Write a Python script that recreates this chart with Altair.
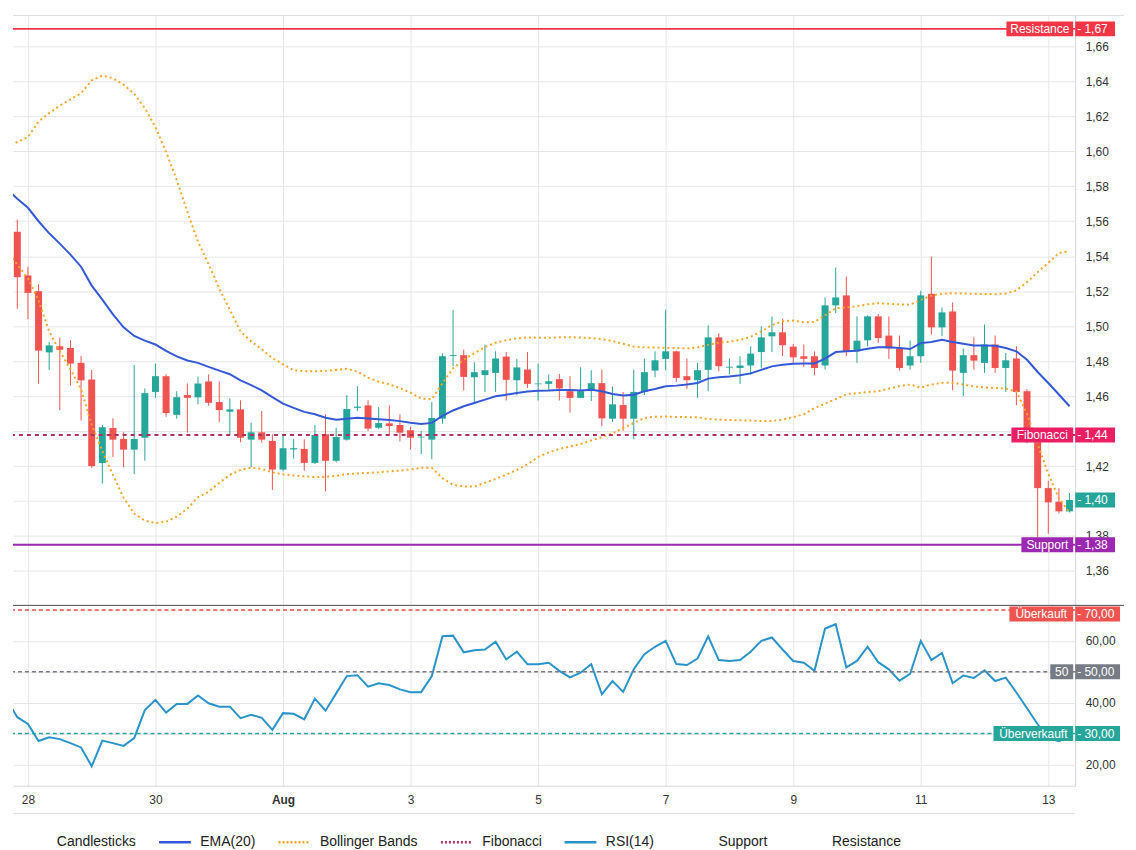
import altair as alt
import pandas as pd
from datetime import datetime, timedelta

# ---------------- data (4h candles) ----------------
OPEN = [1.554, 1.529, 1.520, 1.485, 1.4885, 1.4875, 1.479, 1.4695, 1.4217, 1.4418,
        1.4355, 1.4294, 1.4362, 1.4624, 1.4714, 1.4493, 1.4606, 1.4593, 1.4684, 1.4566,
        1.4511, 1.4524, 1.4351, 1.4393, 1.4344, 1.4180, 1.4295, 1.4298, 1.4218, 1.4382,
        1.4230, 1.4351, 1.4533, 1.4547, 1.4419, 1.4444, 1.4435, 1.4405, 1.4364, 1.4351,
        1.4471, 1.4830, 1.4834, 1.4708, 1.4720, 1.4733, 1.4826, 1.4691, 1.4752, 1.4668,
        1.4670, 1.4697, 1.4628, 1.4590, 1.4632, 1.4674, 1.4471, 1.4549, 1.4471, 1.4624,
        1.4746, 1.4813, 1.4856, 1.4714, 1.4691, 1.4750, 1.4936, 1.4763, 1.4761, 1.4775,
        1.4852, 1.4942, 1.4965, 1.4883, 1.4828, 1.4828, 1.4775, 1.5119, 1.5176, 1.4856,
        1.4919, 1.5056, 1.4946, 1.4872, 1.4775, 1.4828, 1.5185, 1.4993, 1.5084, 1.4733,
        1.4834, 1.4790, 1.4895, 1.4761, 1.4815, 1.4628, 1.4380, 1.4074, 1.3996, 1.3941]
HIGH = [1.561, 1.534, 1.524, 1.491, 1.4935, 1.492, 1.483, 1.475, 1.4435, 1.4473,
        1.4393, 1.4777, 1.4644, 1.4786, 1.4725, 1.4628, 1.4672, 1.4712, 1.4724, 1.4684,
        1.4587, 1.4576, 1.4448, 1.4515, 1.4382, 1.4382, 1.4355, 1.4353, 1.4435, 1.4496,
        1.4419, 1.4606, 1.4657, 1.4577, 1.4537, 1.4547, 1.4496, 1.4425, 1.4401, 1.4566,
        1.4845, 1.5094, 1.4866, 1.4794, 1.4895, 1.4856, 1.4852, 1.4813, 1.4852, 1.4786,
        1.4724, 1.4727, 1.4714, 1.4765, 1.4748, 1.4752, 1.4655, 1.4624, 1.4752, 1.4815,
        1.4856, 1.5094, 1.4860, 1.4815, 1.4790, 1.5005, 1.4959, 1.4815, 1.4828, 1.4885,
        1.4999, 1.5056, 1.5043, 1.4898, 1.4895, 1.4856, 1.5164, 1.5335, 1.5284, 1.5056,
        1.5062, 1.5069, 1.5056, 1.4946, 1.4917, 1.5202, 1.5398, 1.5107, 1.5136, 1.4872,
        1.4936, 1.5009, 1.4946, 1.4847, 1.4885, 1.4640, 1.4390, 1.4116, 1.4074, 1.4046]
LOW = [1.510, 1.504, 1.467, 1.475, 1.452, 1.466, 1.446, 1.419, 1.410, 1.4252,
       1.4192, 1.4154, 1.4231, 1.4589, 1.4482, 1.4471, 1.4391, 1.4553, 1.4545, 1.4452,
       1.4376, 1.4336, 1.4192, 1.4334, 1.4063, 1.4170, 1.4243, 1.4173, 1.4211, 1.4055,
       1.4220, 1.4345, 1.4515, 1.4401, 1.4412, 1.4378, 1.4340, 1.4294, 1.4269, 1.4239,
       1.4442, 1.4771, 1.4632, 1.4562, 1.4624, 1.4624, 1.4575, 1.4604, 1.4647, 1.4575,
       1.4628, 1.4575, 1.4505, 1.4588, 1.4572, 1.4429, 1.4452, 1.4401, 1.4353, 1.4606,
       1.4708, 1.4748, 1.4680, 1.4642, 1.4590, 1.4628, 1.4742, 1.4724, 1.4670, 1.4720,
       1.4758, 1.4852, 1.4828, 1.4790, 1.4767, 1.4720, 1.4752, 1.5075, 1.4828, 1.4790,
       1.4885, 1.4904, 1.4813, 1.4746, 1.4752, 1.4790, 1.4952, 1.4942, 1.4633, 1.4600,
       1.4752, 1.4733, 1.4733, 1.4624, 1.4547, 1.4330, 1.3793, 1.3812, 1.3929, 1.3935]
CLOSE = [1.528, 1.519, 1.486, 1.489, 1.4865, 1.4786, 1.469, 1.420, 1.4422, 1.4351,
         1.4294, 1.4355, 1.4617, 1.4714, 1.4503, 1.4594, 1.4590, 1.4672, 1.4562, 1.4520,
         1.4524, 1.4362, 1.4393, 1.4351, 1.4180, 1.4302, 1.4302, 1.4218, 1.4378, 1.4230,
         1.4366, 1.4526, 1.4540, 1.4414, 1.4446, 1.4429, 1.4391, 1.4362, 1.4368, 1.4475,
         1.4828, 1.4835, 1.4710, 1.4737, 1.4748, 1.4815, 1.4693, 1.4764, 1.4670, 1.4672,
         1.4685, 1.4644, 1.4590, 1.4628, 1.4674, 1.4473, 1.4553, 1.4471, 1.4624, 1.4737,
         1.4805, 1.4856, 1.4704, 1.4691, 1.4748, 1.4936, 1.4771, 1.4768, 1.4775, 1.4843,
         1.4936, 1.4965, 1.4891, 1.4822, 1.4813, 1.4761, 1.5119, 1.5164, 1.4856, 1.4917,
         1.5056, 1.4932, 1.4872, 1.4761, 1.4828, 1.5176, 1.4993, 1.5079, 1.4746, 1.4834,
         1.4803, 1.4895, 1.4761, 1.4805, 1.4624, 1.4380, 1.4074, 1.3992, 1.3941, 1.4006]

# indicator series: first value belongs to the period just before the first candle
EMA20 = [1.5784,
         1.5728, 1.5677, 1.5600, 1.5531, 1.5472, 1.5409, 1.5340, 1.5232, 1.5152, 1.5067,
         1.4993, 1.4944, 1.4917, 1.4895, 1.4859, 1.4827, 1.4804, 1.4790, 1.4767, 1.4746,
         1.4725, 1.4690, 1.4663, 1.4633, 1.4594, 1.4557, 1.4533, 1.4510, 1.4496, 1.4476,
         1.4465, 1.4470, 1.4476, 1.4472, 1.4468, 1.4464, 1.4457, 1.4448, 1.4441, 1.4447,
         1.4487, 1.4518, 1.4542, 1.4561, 1.4580, 1.4599, 1.4608, 1.4618, 1.4627, 1.4631,
         1.4632, 1.4635, 1.4635, 1.4632, 1.4637, 1.4628, 1.4612, 1.4603, 1.4608, 1.4628,
         1.4641, 1.4656, 1.4660, 1.4666, 1.4675, 1.4700, 1.4708, 1.4712, 1.4719, 1.4730,
         1.4750, 1.4770, 1.4779, 1.4785, 1.4786, 1.4787, 1.4814, 1.4852, 1.4856, 1.4860,
         1.4871, 1.4880, 1.4880, 1.4875, 1.4869, 1.4903, 1.4909, 1.4922, 1.4909, 1.4900,
         1.4890, 1.4890, 1.4888, 1.4875, 1.4856, 1.4808, 1.4738, 1.4675, 1.4609, 1.4542]
BB_UPPER = [1.6023,
            1.6053, 1.6081, 1.6170, 1.6218, 1.6261, 1.6297, 1.6332, 1.6406, 1.6433, 1.6418,
            1.6381, 1.6328, 1.6247, 1.6138, 1.5996, 1.5836, 1.5654, 1.5483, 1.5355, 1.5215,
            1.5093, 1.4970, 1.4913, 1.4868, 1.4817, 1.4782, 1.4748, 1.4742, 1.4742, 1.4745,
            1.4750, 1.4756, 1.4740, 1.4705, 1.4683, 1.4667, 1.4646, 1.4620, 1.4586, 1.4583,
            1.4674, 1.4760, 1.4808, 1.4845, 1.4881, 1.4905, 1.4920, 1.4930, 1.4936, 1.4934,
            1.4933, 1.4936, 1.4937, 1.4935, 1.4932, 1.4926, 1.4915, 1.4899, 1.4883, 1.4879,
            1.4878, 1.4876, 1.4875, 1.4872, 1.4879, 1.4893, 1.4906, 1.4911, 1.4922, 1.4939,
            1.4970, 1.5006, 1.5028, 1.5032, 1.5022, 1.5024, 1.5062, 1.5103, 1.5107, 1.5114,
            1.5125, 1.5131, 1.5128, 1.5124, 1.5123, 1.5150, 1.5175, 1.5186, 1.5189, 1.5187,
            1.5185, 1.5184, 1.5183, 1.5187, 1.5204, 1.5252, 1.5309, 1.5362, 1.5418, 1.5430]
BB_LOWER = [1.5434,
            1.5352, 1.5274, 1.5147, 1.4970, 1.4856, 1.4754, 1.4640, 1.4435, 1.4287, 1.4150,
            1.4019, 1.3928, 1.3888, 1.3874, 1.3882, 1.3911, 1.3956, 1.4022, 1.4053, 1.4104,
            1.4150, 1.4178, 1.4191, 1.4184, 1.4164, 1.4153, 1.4146, 1.4141, 1.4137, 1.4138,
            1.4144, 1.4154, 1.4158, 1.4161, 1.4164, 1.4170, 1.4174, 1.4181, 1.4190, 1.4190,
            1.4130, 1.4093, 1.4083, 1.4083, 1.4104, 1.4127, 1.4150, 1.4178, 1.4210, 1.4252,
            1.4278, 1.4298, 1.4312, 1.4326, 1.4346, 1.4366, 1.4386, 1.4418, 1.4446, 1.4475,
            1.4482, 1.4483, 1.4481, 1.4480, 1.4479, 1.4469, 1.4466, 1.4463, 1.4462, 1.4460,
            1.4458, 1.4458, 1.4466, 1.4480, 1.4496, 1.4532, 1.4557, 1.4583, 1.4610, 1.4617,
            1.4623, 1.4628, 1.4643, 1.4657, 1.4666, 1.4648, 1.4666, 1.4676, 1.4676, 1.4666,
            1.4655, 1.4650, 1.4646, 1.4643, 1.4626, 1.4497, 1.4326, 1.4156, 1.4016, 1.3935]
RSI14 = [41.0,
         35.3, 33.1, 27.6, 28.8, 28.2, 26.9, 25.5, 19.4, 27.7, 26.9,
         26.0, 28.5, 37.6, 40.9, 36.8, 39.6, 39.6, 42.3, 39.8, 38.7,
         38.7, 35.0, 36.1, 35.1, 31.2, 36.6, 36.4, 34.6, 41.3, 37.4,
         43.0, 48.6, 48.9, 45.2, 46.3, 45.7, 44.3, 43.4, 43.4, 48.6,
         61.5, 61.7, 56.3, 57.0, 57.2, 59.7, 54.0, 56.5, 52.4, 52.4,
         52.9, 50.3, 48.2, 49.7, 52.5, 42.7, 47.0, 43.5, 50.8, 55.7,
         58.1, 60.0, 52.5, 52.2, 54.3, 61.5, 53.8, 53.5, 53.8, 56.5,
         60.0, 61.1, 57.2, 53.5, 52.9, 50.3, 64.0, 65.4, 51.4, 53.5,
         58.1, 53.1, 50.8, 47.1, 49.3, 60.0, 53.8, 56.1, 46.3, 48.8,
         48.0, 50.5, 47.0, 48.1, 43.3, 38.2, 33.0, 28.5, 27.5, 29.0]

FIRST_CANDLE = datetime(2024, 7, 27, 20, 0)
CANDLE_HOURS = 4

RESISTANCE = 1.67
FIBONACCI = 1.4378
SUPPORT = 1.375
LAST_PRICE = CLOSE[-1]
RSI_LEVELS = [70, 50, 30]
RSI_LEVEL_LABELS = ["Überkauft", "50", "Überverkauft"]

X_TICK_DAYS = [(7, 28), (7, 30), (8, 1), (8, 3), (8, 5), (8, 7), (8, 9), (8, 11), (8, 13)]
Y_TICKS = [1.36, 1.38, 1.40, 1.42, 1.44, 1.46, 1.48, 1.50, 1.52, 1.54, 1.56, 1.58, 1.60, 1.62, 1.64, 1.66]
RSI_TICKS = [20, 30, 40, 50, 60, 70]

LEGEND_NAMES = ["Candlesticks", "EMA(20)", "Bollinger Bands", "Fibonacci", "RSI(14)", "Support", "Resistance"]

# ---------------- style ----------------
FONT = "Liberation Sans"
UP, DOWN = "#26a69a", "#ef5350"
EMA_C, BB_C, FIB_C = "#3559d6", "#f4a52a", "#b0305f"
RSI_C = "#2a93c9"
RES_C, FIB_BADGE, SUP_C = "#f23645", "#e91e63", "#9c27b0"
OB_C, MID_C, OS_C = "#e0504d", "#787b86", "#26a69a"
GRID = "#e6e6e6"
DOMAIN = "#d4d4d4"
W, H_MAIN, H_RSI = 1066, 592, 181

LEGEND_COLORS = ["transparent", EMA_C, BB_C, FIB_C, RSI_C, "transparent", "transparent"]
LEGEND_DASH = [[1, 0], [1, 0], [2, 2], [2, 2], [1, 0], [1, 0], [1, 0]]


def iso(dt):
    return dt.strftime("%Y-%m-%dT%H:%M:%SZ")


candles = pd.DataFrame({
    "t": [iso(FIRST_CANDLE + timedelta(hours=CANDLE_HOURS * i)) for i in range(len(OPEN))],
    "open": OPEN, "high": HIGH, "low": LOW, "close": CLOSE,
})
ind = pd.DataFrame({
    "t": [iso(FIRST_CANDLE + timedelta(hours=CANDLE_HOURS * (i - 1))) for i in range(len(EMA20))],
    "ema": EMA20, "upper": BB_UPPER, "lower": BB_LOWER, "rsi": RSI14,
})

x_scale = alt.Scale(type="utc", padding=0, domain=[
    alt.DateTime(year=2024, month=7, date=27, hours=18, minutes=22, seconds=30, utc=True),
    alt.DateTime(year=2024, month=8, date=13, hours=10, minutes=7, seconds=30, utc=True)])
x_values = [alt.DateTime(year=2024, month=m, date=d, utc=True) for m, d in X_TICK_DAYS]

x_axis_main = alt.Axis(values=x_values, grid=True, gridColor=GRID, labels=False, ticks=False,
                       domain=False, title=None)
x_axis_rsi = alt.Axis(values=x_values, grid=True, gridColor=GRID, ticks=False, domainColor=DOMAIN,
                      title=None, labelFont=FONT, labelFontSize=12, labelColor="#333", labelPadding=9,
                      labelFlush=False,
                      labelExpr="utcdate(datum.value) == 1 ? utcFormat(datum.value, '%b') : '' + utcdate(datum.value)",
                      labelFontWeight={"condition": {"test": "utcdate(datum.value) == 1", "value": "bold"},
                                       "value": "normal"})

# price labels hidden behind the Fibonacci badge and the last-price badge
y_scale = alt.Scale(domain=[1.34034, 1.67766], nice=False, zero=False, padding=0)
y_axis = alt.Axis(orient="right", values=Y_TICKS, grid=True, gridColor=GRID, ticks=False,
                  domainColor=DOMAIN, title=None, labelFont=FONT, labelFontSize=12, labelColor="#333",
                  labelPadding=10,
                  labelExpr="(format(datum.value, '.2f') == '1.40' || format(datum.value, '.2f') == '1.44') ? '' : replace(format(datum.value, '.2f'), '.', ',')")
r_scale = alt.Scale(domain=[13.1, 71.5], nice=False, zero=False, padding=0)
r_axis = alt.Axis(orient="right", values=RSI_TICKS, grid=True, gridColor=GRID, ticks=False,
                  domainColor=DOMAIN, title=None, labelFont=FONT, labelFontSize=12, labelColor="#333",
                  labelPadding=10,
                  labelExpr="(datum.value == 30 || datum.value == 50 || datum.value == 70) ? '' : replace(format(datum.value, '.2f'), '.', ',')")

X = lambda: alt.X("t:T", scale=x_scale, axis=x_axis_main)
XR = lambda: alt.X("t:T", scale=x_scale, axis=x_axis_rsi)
candle_color = alt.condition("datum.close >= datum.open", alt.value(UP), alt.value(DOWN))

wicks = alt.Chart(candles).mark_rule(strokeWidth=1).encode(
    x=X(), y=alt.Y("low:Q", scale=y_scale, axis=y_axis), y2="high:Q", color=candle_color)
bodies = alt.Chart(candles).mark_bar(size=7).encode(
    x=X(), y=alt.Y("open:Q", scale=y_scale, axis=y_axis), y2="close:Q", color=candle_color)
ema = alt.Chart(ind).mark_line(color=EMA_C, strokeWidth=2, clip=True).encode(
    x=X(), y=alt.Y("ema:Q", scale=y_scale, axis=y_axis))
upper = alt.Chart(ind).mark_line(color=BB_C, strokeWidth=2, strokeDash=[2, 3], clip=True).encode(
    x=X(), y=alt.Y("upper:Q", scale=y_scale, axis=y_axis))
lower = alt.Chart(ind).mark_line(color=BB_C, strokeWidth=2, strokeDash=[2, 3], clip=True).encode(
    x=X(), y=alt.Y("lower:Q", scale=y_scale, axis=y_axis))


def level_rule(value, color, dash, scale, axis, width=2):
    kw = dict(color=color, strokeWidth=width)
    if dash:
        kw["strokeDash"] = dash
    return alt.Chart(pd.DataFrame({"v": [value]})).mark_rule(**kw).encode(
        y=alt.Y("v:Q", scale=scale, axis=axis))


LABEL_END, VALUE_START = 1064, 1066


def badge(value, label, color, label_start, value_end, scale, axis, yoff=0):
    base = alt.Chart(pd.DataFrame({"v": [value], "label": [label]})).transform_calculate(
        txt="'- ' + replace(format(datum.v, '.2f'), '.', ',')")
    y = alt.Y("v:Q", scale=scale, axis=axis)
    layers = []
    if label:
        layers.append(base.mark_rule(color=color, strokeWidth=15, yOffset=yoff).encode(
            x=alt.value(label_start), x2=alt.value(LABEL_END), y=y))
        layers.append(base.mark_text(color="white", font=FONT, fontSize=12, align="center",
                                     baseline="middle", yOffset=yoff).encode(
            x=alt.value((label_start + LABEL_END) / 2), y=y, text="label:N"))
    layers.append(base.mark_rule(color=color, strokeWidth=15, yOffset=yoff).encode(
        x=alt.value(VALUE_START), x2=alt.value(value_end), y=y))
    layers.append(base.mark_text(color="white", font=FONT, fontSize=12, align="left",
                                 baseline="middle", yOffset=yoff).encode(
        x=alt.value(VALUE_START + 2), y=y, text="txt:N"))
    return layers


frame = pd.DataFrame({"a": [0]})
top_border = alt.Chart(frame).mark_rule(color="#dcdcdc", strokeWidth=1).encode(
    x=alt.value(0), x2=alt.value(1115), y=alt.value(0))
separator = alt.Chart(frame).mark_rule(color="#4a4a4a", strokeWidth=1).encode(
    x=alt.value(0), x2=alt.value(1115), y=alt.value(H_MAIN))

main_layers = [wicks, bodies, ema, upper, lower,
               level_rule(RESISTANCE, RES_C, None, y_scale, y_axis),
               level_rule(FIBONACCI, FIB_C, [4, 4], y_scale, y_axis),
               level_rule(SUPPORT, SUP_C, None, y_scale, y_axis)]
main_layers += badge(RESISTANCE, "Resistance", RES_C, 997, 1106, y_scale, y_axis)
main_layers += badge(FIBONACCI, "Fibonacci", FIB_BADGE, 1002, 1106, y_scale, y_axis)
main_layers += badge(LAST_PRICE, "", UP, 0, 1106, y_scale, y_axis)
main_layers += badge(SUPPORT, "Support", SUP_C, 1012, 1106, y_scale, y_axis)
main_layers += [top_border, separator]
main = alt.layer(*main_layers).properties(width=W, height=H_MAIN)

rsi_line = alt.Chart(ind).mark_line(color=RSI_C, strokeWidth=2, clip=True).encode(
    x=XR(), y=alt.Y("rsi:Q", scale=r_scale, axis=r_axis))
rsi_layers = [rsi_line,
              level_rule(RSI_LEVELS[0], OB_C, [4, 3], r_scale, r_axis, 1.5),
              level_rule(RSI_LEVELS[1], MID_C, [4, 3], r_scale, r_axis, 1.5),
              level_rule(RSI_LEVELS[2], OS_C, [4, 3], r_scale, r_axis, 1.5)]
rsi_layers += badge(RSI_LEVELS[0], RSI_LEVEL_LABELS[0], "#ef5350", 1000, 1111, r_scale, r_axis, yoff=4)
rsi_layers += badge(RSI_LEVELS[1], RSI_LEVEL_LABELS[1], MID_C, 1041, 1111, r_scale, r_axis)
rsi_layers += badge(RSI_LEVELS[2], RSI_LEVEL_LABELS[2], OS_C, 984, 1111, r_scale, r_axis)

legend = alt.Legend(title=None, orient="none", legendX=1, legendY=812, direction="horizontal",
                    columns=7, symbolType="stroke", symbolSize=1024, symbolStrokeWidth=2.5,
                    labelFont=FONT, labelFontSize=14, labelColor="#222", labelOffset=8,
                    columnPadding=17, padding=0, gridAlign="each", labelLimit=0)
legend_layer = alt.Chart(pd.DataFrame({"series": LEGEND_NAMES})).transform_filter("false").mark_line().encode(
    x=XR(), y=alt.Y("rsi:Q", scale=r_scale, axis=r_axis),
    color=alt.Color("series:N", scale=alt.Scale(domain=LEGEND_NAMES, range=LEGEND_COLORS), legend=legend),
    strokeDash=alt.StrokeDash("series:N", scale=alt.Scale(domain=LEGEND_NAMES, range=LEGEND_DASH),
                              legend=legend))
bottom_line = alt.Chart(frame).mark_rule(color="#dcdcdc", strokeWidth=1).encode(
    x=alt.value(0), x2=alt.value(W), y=alt.value(H_RSI + 28))
rsi_layers += [legend_layer, bottom_line]
rsi = alt.layer(*rsi_layers).properties(width=W, height=H_RSI)

chart = alt.vconcat(main, rsi, spacing=0, bounds="flush").properties(
    padding={"left": 4, "top": 5, "right": 0, "bottom": 0}
).configure_view(stroke=None)

chart.save("out.html", embed_options={"renderer": "svg", "actions": False})
